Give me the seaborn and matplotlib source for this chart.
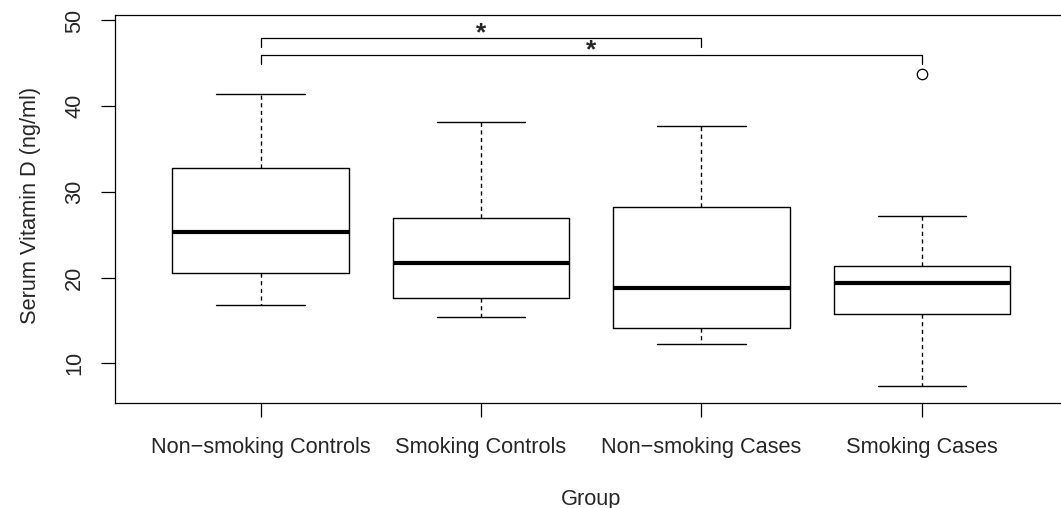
import pandas as pd
import numpy as np
import matplotlib
matplotlib.use("Agg")
import matplotlib.pyplot as plt
import seaborn as sns

# ---- DATA (five-number summaries) ----
groups = ["Non−smoking Controls", "Smoking Controls", "Non−smoking Cases", "Smoking Cases"]
whisker_low = [16.8, 15.45, 12.3, 7.3]
q1 = [20.55, 17.65, 14.1, 15.75]
median = [25.35, 21.7, 18.8, 19.35]
q3 = [32.75, 26.9, 28.2, 21.4]
whisker_high = [41.4, 38.1, 37.7, 27.15]
outliers = [[], [], [], [43.8]]

# significance brackets
sig_pairs = [(0, 2), (0, 3)]
sig_heights = [47.93, 45.97]
sig_labels = ["*", "*"]

# build a long table whose quartiles reproduce the summaries above
rows = []
for g, lo, a, m, b, hi, out in zip(groups, whisker_low, q1, median, q3, whisker_high, outliers):
    vals = [lo, a, a, m, m, b, b, hi] + (out if out else [hi])
    for v in vals:
        rows.append({"Group": g, "VitD": v})
df = pd.DataFrame(rows)

# ---- PLOT ----
sns.set_style("ticks")
plt.rcParams["font.family"] = ["Liberation Sans", "DejaVu Sans"]
FS = 15.7

fig = plt.figure(figsize=(10.61, 5.08), dpi=100)
ax = fig.add_axes([115 / 1061, (508 - 403.3) / 508, (1067.4 - 115) / 1061, (403.3 - 15) / 508])

sns.boxplot(data=df, x="Group", y="VitD", order=groups, ax=ax,
            fill=False, color="black", linewidth=1.0, width=0.8, whis=1.5,
            medianprops={"linewidth": 3.0, "color": "black"},
            whiskerprops={"linestyle": (0, (3, 2.5)), "color": "black"},
            capprops={"color": "black"},
            flierprops={"marker": "o", "markersize": 7.5, "markerfacecolor": "none",
                        "markeredgecolor": "black", "markeredgewidth": 0.9})

ax.set_xlim(-0.66, 3.66)
ax.set_ylim(5.33, 50.64)
ax.set_yticks([10, 20, 30, 40, 50])

for (i, j), h, lab in zip(sig_pairs, sig_heights, sig_labels):
    ax.plot([i, i, j, j], [h - 1.05, h, h, h - 1.05], color="black", lw=0.9)
    ax.text((i + j) / 2, h + 0.55, lab, ha="center", va="center", fontsize=19, fontweight="bold")

for s in ax.spines.values():
    s.set_visible(True)
    s.set_linewidth(0.9)
    s.set_color("black")

ax.tick_params(axis="both", length=10, width=0.9, color="black", labelsize=FS)
ax.tick_params(axis="x", pad=14)
ax.tick_params(axis="y", labelrotation=90, pad=11.5)
for t in ax.get_yticklabels():
    t.set_va("center")

ax.set_xlabel("Group", fontsize=FS, labelpad=22.5)
ax.set_ylabel("Serum Vitamin D (ng/ml)", fontsize=FS, labelpad=17)
ax.yaxis.label.set_y(0.51)

fig.savefig("out.png", dpi=100)
